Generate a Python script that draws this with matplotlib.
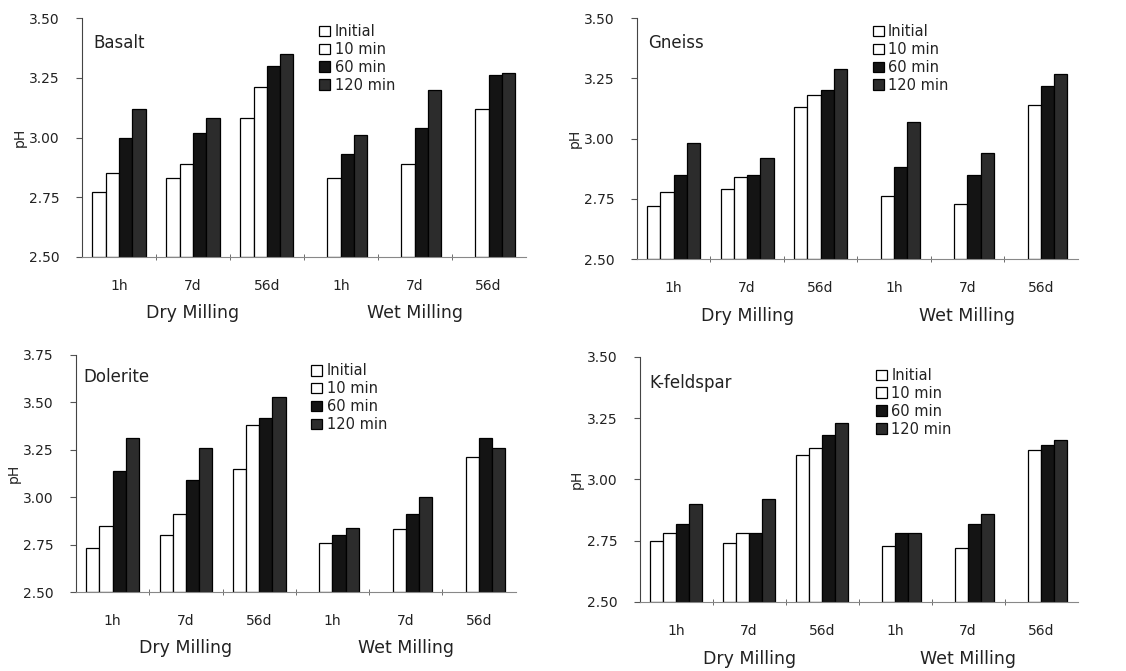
import numpy as np
import matplotlib.pyplot as plt
import matplotlib.transforms as mtransforms
from matplotlib.patches import Patch

nan = np.nan

groups = ['1h', '7d', '56d', '1h', '7d', '56d']
series = ['Initial', '10 min', '60 min', '120 min']

# dry milling 1h,7d,56d then wet milling 1h,7d,56d (no initial value for wet)
basalt_initial = [2.77, 2.83, 3.08, nan, nan, nan]
basalt_10 = [2.85, 2.89, 3.21, 2.83, 2.89, 3.12]
basalt_60 = [3.00, 3.02, 3.30, 2.93, 3.04, 3.26]
basalt_120 = [3.12, 3.08, 3.35, 3.01, 3.20, 3.27]

gneiss_initial = [2.72, 2.79, 3.13, nan, nan, nan]
gneiss_10 = [2.78, 2.84, 3.18, 2.76, 2.73, 3.14]
gneiss_60 = [2.85, 2.85, 3.20, 2.88, 2.85, 3.22]
gneiss_120 = [2.98, 2.92, 3.29, 3.07, 2.94, 3.27]

dolerite_initial = [2.73, 2.80, 3.15, nan, nan, nan]
dolerite_10 = [2.85, 2.91, 3.38, 2.76, 2.83, 3.21]
dolerite_60 = [3.14, 3.09, 3.42, 2.80, 2.91, 3.31]
dolerite_120 = [3.31, 3.26, 3.53, 2.84, 3.00, 3.26]

kfeld_initial = [2.75, 2.74, 3.10, nan, nan, nan]
kfeld_10 = [2.78, 2.78, 3.13, 2.73, 2.72, 3.12]
kfeld_60 = [2.82, 2.78, 3.18, 2.78, 2.82, 3.14]
kfeld_120 = [2.90, 2.92, 3.23, 2.78, 2.86, 3.16]

colors = ['white', 'white', '#141414', '#2c2c2c']
txt = '#222222'

plt.rcParams['font.family'] = ['DejaVu Sans']

fig = plt.figure(figsize=(11.26, 6.71), dpi=100)

panels = [
    ('Basalt', [basalt_initial, basalt_10, basalt_60, basalt_120], 3.50,
     [0.0728, 0.617, 0.394, 0.356], (0.025, 0.895), (0.535, 0.975)),
    ('Gneiss', [gneiss_initial, gneiss_10, gneiss_60, gneiss_120], 3.50,
     [0.5657, 0.614, 0.3913, 0.359], (0.025, 0.895), (0.535, 0.975)),
    ('Dolerite', [dolerite_initial, dolerite_10, dolerite_60, dolerite_120], 3.75,
     [0.0675, 0.1177, 0.3905, 0.3533], (0.016, 0.907), (0.535, 0.965)),
    ('K-feldspar', [kfeld_initial, kfeld_10, kfeld_60, kfeld_120], 3.50,
     [0.568, 0.103, 0.389, 0.365], (0.023, 0.894), (0.54, 0.955)),
]

x = np.arange(len(groups))
w = 0.18

for name, vals, ytop, rect, lab_pos, leg_pos in panels:
    ax = fig.add_axes(rect)
    for i, v in enumerate(vals):
        ax.bar(x + (i - 1.5) * w, np.array(v) - 2.5, w, bottom=2.5,
               color=colors[i], edgecolor='black', linewidth=0.9)
    ax.set_xlim(-0.5, 5.5)
    ax.set_ylim(2.5, ytop)
    ax.set_yticks(np.arange(2.5, ytop + 0.01, 0.25))
    ax.set_yticklabels(['%.2f' % t for t in np.arange(2.5, ytop + 0.01, 0.25)])
    ax.set_xticks(x)
    ax.set_xticklabels(groups)
    ax.set_xticks(np.arange(0.5, 5.0, 1.0), minor=True)
    ax.tick_params(axis='x', which='major', length=0, pad=16, labelsize=10, colors=txt)
    ax.tick_params(axis='x', which='minor', length=4, direction='inout', color='#555555')
    ax.tick_params(axis='y', length=4, pad=12, labelsize=10, colors=txt, color='#555555')
    for s in ['top', 'right']:
        ax.spines[s].set_visible(False)
    ax.spines['left'].set_color('#444444')
    ax.spines['bottom'].set_color('#888888')
    ax.set_ylabel('pH', fontsize=10, color=txt, labelpad=2)

    trans = mtransforms.blended_transform_factory(ax.transData, ax.transAxes)
    ax.text(1, -0.235, 'Dry Milling', transform=trans, ha='center', va='center',
            fontsize=12.5, color=txt)
    ax.text(4, -0.235, 'Wet Milling', transform=trans, ha='center', va='center',
            fontsize=12.5, color=txt)
    ax.text(lab_pos[0], lab_pos[1], name, transform=ax.transAxes, ha='left',
            va='center', fontsize=12, color=txt)

    handles = [Patch(facecolor=colors[i], edgecolor='black', linewidth=0.9)
               for i in range(4)]
    ax.legend(handles, series, loc='upper left', bbox_to_anchor=leg_pos,
              frameon=False, fontsize=10.5, handlelength=0.75, handleheight=0.75,
              handletextpad=0.3, labelspacing=0.2, borderpad=0, borderaxespad=0,
              labelcolor=txt)

plt.savefig('out.png', dpi=100)
